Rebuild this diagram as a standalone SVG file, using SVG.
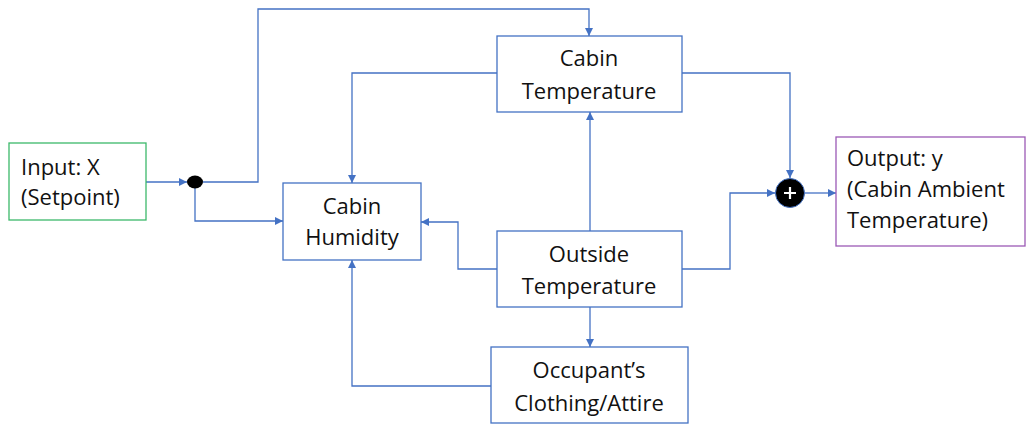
<svg xmlns="http://www.w3.org/2000/svg" width="1026" height="424" viewBox="0 0 1026 424">
<defs>
<marker id="ah" viewBox="0 0 10 10" refX="10" refY="5" markerWidth="8" markerHeight="8" markerUnits="userSpaceOnUse" orient="auto">
<path d="M0,0 L10,5 L0,10 z" fill="#4472c4"/>
</marker>
<style>
.box{fill:#fff;stroke:#4472c4;stroke-width:1.3}
.t{font-family:"Open Sans","Noto Sans",sans-serif;font-size:22px;fill:#111}
.c{text-anchor:middle}
.ln{fill:none;stroke:#4472c4;stroke-width:1.3;marker-end:url(#ah)}
</style>
</defs>
<rect width="1026" height="424" fill="#fff"/>
<g id="connectors">
<path class="ln" d="M146,182 H187"/>
<path class="ln" d="M203,182 H258 V9 H589 V36"/>
<path class="ln" d="M195,188 V221 H283"/>
<path class="ln" d="M497,73 H352 V183"/>
<path class="ln" d="M682,73 H790 V178"/>
<path class="ln" d="M590,231 V112"/>
<path class="ln" d="M497,269 H458 V222 H421"/>
<path class="ln" d="M682,269 H730 V193 H775"/>
<path class="ln" d="M805,193 H836"/>
<path class="ln" d="M590,307 V347"/>
<path class="ln" d="M491,386 H352 V260"/>
</g>
<g id="input">
<rect x="9" y="143" width="137" height="77" fill="#fff" stroke="#3cb96a" stroke-width="1.3"/>
<text class="t" x="21" y="175">Input: X</text>
<text class="t" x="21" y="205">(Setpoint)</text>
</g>
<g id="junction">
<ellipse cx="195" cy="182" rx="8" ry="6.5" fill="#000"/>
</g>
<g id="cabin-temperature">
<rect class="box" x="497" y="36" width="185" height="76"/>
<text class="t c" x="589" y="66">Cabin</text>
<text class="t c" x="589" y="99">Temperature</text>
</g>
<g id="cabin-humidity">
<rect class="box" x="283" y="183" width="138" height="77"/>
<text class="t c" x="352" y="214">Cabin</text>
<text class="t c" x="352" y="245">Humidity</text>
</g>
<g id="outside-temperature">
<rect class="box" x="497" y="231" width="185" height="76"/>
<text class="t c" x="589" y="262">Outside</text>
<text class="t c" x="589" y="294">Temperature</text>
</g>
<g id="occupant">
<rect class="box" x="491" y="347" width="197" height="76"/>
<text class="t c" x="589" y="378">Occupant’s</text>
<text class="t c" x="589" y="411">Clothing/Attire</text>
</g>
<g id="sum">
<circle cx="790" cy="193" r="14.5" fill="#000" stroke="#4472c4" stroke-width="1"/>
<path d="M784,193 H796 M790,187 V199" stroke="#fff" stroke-width="2.2"/>
</g>
<g id="output">
<rect x="836" y="137" width="189" height="109" fill="#fff" stroke="#9b59b6" stroke-width="1.3"/>
<text class="t" x="847" y="166">Output: y</text>
<text class="t" x="847" y="197">(Cabin Ambient</text>
<text class="t" x="847" y="228">Temperature)</text>
</g>
</svg>
